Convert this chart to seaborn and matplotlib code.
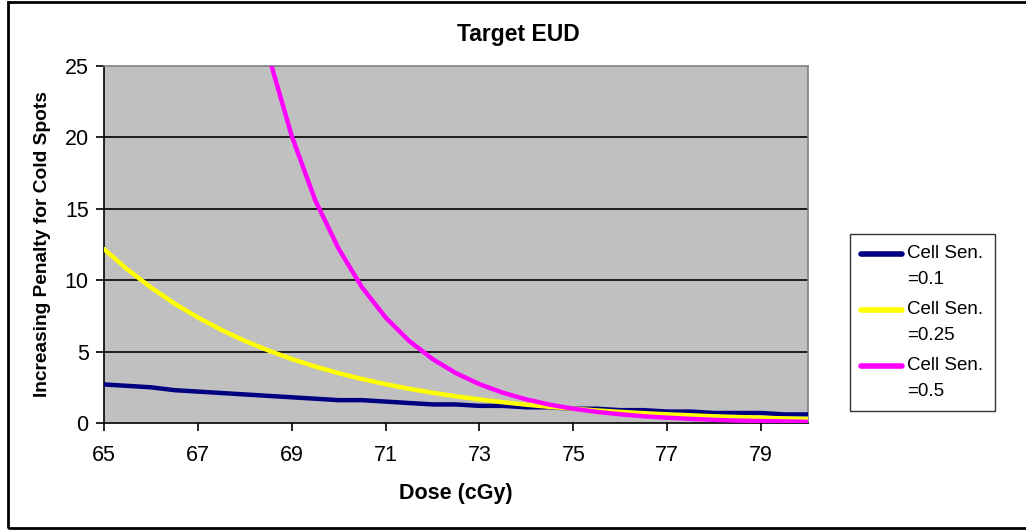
import matplotlib
matplotlib.use("Agg")
import matplotlib.pyplot as plt
import seaborn as sns
import pandas as pd
from matplotlib.patches import Rectangle
from matplotlib.lines import Line2D
from matplotlib.legend_handler import HandlerLine2D

dose = [65.0, 65.5, 66.0, 66.5, 67.0, 67.5, 68.0, 68.5, 69.0, 69.5, 70.0, 70.5,
        71.0, 71.5, 72.0, 72.5, 73.0, 73.5, 74.0, 74.5, 75.0, 75.5, 76.0, 76.5,
        77.0, 77.5, 78.0, 78.5, 79.0, 79.5, 80.0]
sen_01 = [2.7, 2.6, 2.5, 2.3, 2.2, 2.1, 2.0, 1.9, 1.8, 1.7, 1.6, 1.6, 1.5, 1.4,
          1.3, 1.3, 1.2, 1.2, 1.1, 1.1, 1.0, 1.0, 0.9, 0.9, 0.8, 0.8, 0.7, 0.7,
          0.7, 0.6, 0.6]
sen_025 = [12.18, 10.75, 9.49, 8.37, 7.39, 6.52, 5.75, 5.08, 4.48, 3.95, 3.49,
           3.08, 2.72, 2.40, 2.12, 1.87, 1.65, 1.45, 1.28, 1.13, 1.0, 0.88, 0.78,
           0.69, 0.61, 0.54, 0.47, 0.42, 0.37, 0.32, 0.29]
sen_05 = [148.4, 115.6, 90.0, 70.1, 54.6, 42.5, 33.1, 25.8, 20.1, 15.6, 12.2,
          9.49, 7.39, 5.75, 4.48, 3.49, 2.72, 2.12, 1.65, 1.28, 1.0, 0.78, 0.61,
          0.47, 0.37, 0.29, 0.22, 0.17, 0.14, 0.11, 0.08]
series_labels = ["Cell Sen.\n=0.1", "Cell Sen.\n=0.25", "Cell Sen.\n=0.5"]
colors = ["#000080", "#FFFF00", "#FF00FF"]
x_ticks = [65, 67, 69, 71, 73, 75, 77, 79]
y_ticks = [0, 5, 10, 15, 20, 25]

df = pd.concat([
    pd.DataFrame({"dose": dose, "val": vals, "series": lab})
    for vals, lab in zip([sen_01, sen_025, sen_05], series_labels)
])

sns.set_theme(style="white")
plt.rcParams["font.family"] = ["Liberation Sans", "DejaVu Sans"]
plt.rcParams["text.color"] = "black"
plt.rcParams["axes.labelcolor"] = "black"

W, H = 1026, 530
fig = plt.figure(figsize=(W / 100, H / 100), dpi=100)
ax = fig.add_axes([104 / W, 1 - 423 / H, (808 - 104) / W, (423 - 66) / H])
ax.set_facecolor("#C0C0C0")

sns.lineplot(data=df, x="dose", y="val", hue="series", palette=colors,
             linewidth=3.2, ax=ax, legend=False, sort=False, zorder=3)

ax.set_xlim(65, 80)
ax.set_ylim(0, 25)
ax.set_xticks(x_ticks)
ax.set_yticks(y_ticks)
ax.set_xticklabels([str(t) for t in x_ticks], fontsize=15.5)
ax.set_yticklabels([str(t) for t in y_ticks], fontsize=15.5)
ax.tick_params(axis="both", direction="out", length=6, width=1.2, color="black",
               bottom=True, left=True, labelcolor="black")
ax.tick_params(axis="x", pad=10)
ax.tick_params(axis="y", pad=5)

for yv in y_ticks[1:-1]:
    ax.axhline(yv, color="black", linewidth=1.2, zorder=1)

for side in ["top", "right"]:
    ax.spines[side].set_color("#808080")
    ax.spines[side].set_linewidth(1.2)
for side in ["left", "bottom"]:
    ax.spines[side].set_color("black")
    ax.spines[side].set_linewidth(1.2)

ax.set_xlabel("Dose (cGy)", fontsize=15.5, fontweight="bold", labelpad=12,
              color="black")
ax.set_ylabel("Increasing Penalty for Cold Spots", fontsize=13.8,
              fontweight="bold", labelpad=10, color="black")

fig.text(518 / W, 1 - 35 / H, "Target EUD", ha="center", va="center",
         fontsize=16.5, fontweight="bold", color="black")


class TopLineHandler(HandlerLine2D):
    def create_artists(self, legend, orig_handle, xdescent, ydescent, width,
                       height, fontsize, trans):
        artists = super().create_artists(legend, orig_handle, xdescent,
                                         ydescent, width, height, fontsize,
                                         trans)
        for a in artists:
            yd = a.get_ydata()
            a.set_ydata([v + fontsize * 0.68 for v in yd])
        return artists


handles = [Line2D([0], [0], color=c, linewidth=4) for c in colors]
leg = fig.legend(handles, series_labels, loc="upper left",
                 bbox_to_anchor=(850 / W, 1 - 234 / H), fontsize=13.5,
                 frameon=True, fancybox=False, handlelength=2.15,
                 handletextpad=0.3, labelspacing=0.72, borderpad=0.6,
                 borderaxespad=0,
                 handler_map={Line2D: TopLineHandler()})
for t in leg.get_texts():
    t.set_linespacing(1.65)
    t.set_color("black")
leg.get_frame().set_edgecolor("black")
leg.get_frame().set_linewidth(1.0)
leg.get_frame().set_facecolor("white")

fig.patches.append(Rectangle((8 / W, 2 / H), (W + 10 - 8) / W, (528 - 2) / H,
                             transform=fig.transFigure, fill=False,
                             edgecolor="black", linewidth=2))

fig.savefig("out.png", dpi=100)
